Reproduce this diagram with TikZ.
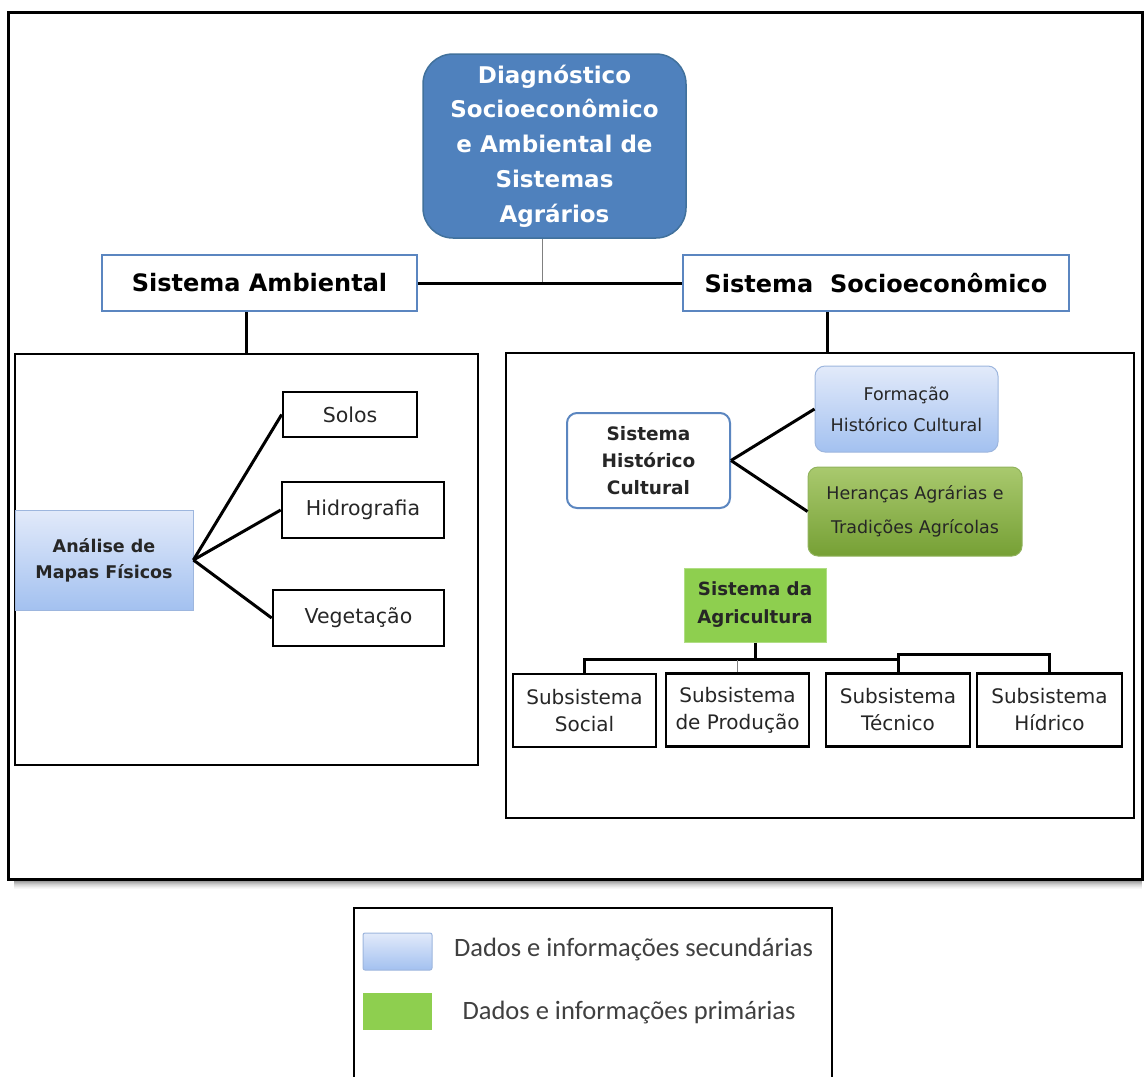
\documentclass[tikz,border=0pt]{standalone}
\usepackage{fontspec}
\setmainfont{DejaVu Sans}
\newfontfamily\legfont{Carlito}
\newcommand{\myfs}[2]{\fontsize{#1}{#2}\selectfont}
\definecolor{tblue}{HTML}{4F81BD}
\definecolor{tbord}{HTML}{41719C}
\definecolor{sysblue}{HTML}{5B86C0}
\definecolor{lbtop}{HTML}{E2EAFA}
\definecolor{lbbot}{HTML}{A3C1F0}
\definecolor{lbord}{HTML}{9DB6DE}
\definecolor{gtop}{HTML}{A9C96E}
\definecolor{gbot}{HTML}{76A035}
\definecolor{agrgreen}{HTML}{8ECF4F}
\definecolor{txtgray}{HTML}{262626}
\definecolor{leggray}{HTML}{404040}
\tikzset{
  box/.style={inner sep=0pt, align=center, anchor=center},
  blackbox/.style={box, draw=black, line width=2.6pt, fill=white, text=txtgray},
  sysbox/.style={box, draw=sysblue, line width=2pt, fill=white, text=black, font=\myfs{24}{30}\bfseries},
  panel/.style={box, draw=black, line width=2.8pt},
  bluegrad/.style={top color=lbtop, bottom color=lbbot},
  greengrad/.style={top color=gtop, bottom color=gbot},
  conn/.style={line width=3pt, black},
  leaf/.style={blackbox, font=\myfs{20.5}{26}},
  subbox/.style={blackbox, minimum width=143pt, minimum height=73pt, font=\myfs{20}{27}},
}
\begin{document}
\begin{tikzpicture}[x=1pt,y=-1pt]
\useasboundingbox (0,0) rectangle (1144,1077);
\fill[white] (0,0) rectangle (1144,1077);

% outer frame with shadow
\foreach \i/\o in {1/0.45,2/0.38,3/0.31,4/0.25,5/0.19,6/0.14,7/0.10,8/0.06,9/0.03}
  \draw[black, opacity=\o, line width=1pt] (14,879+\i) -- (1142,879+\i);
\draw[line width=3pt] (8,12) rectangle (1142,879);

% title
\node[box, minimum width=263pt, minimum height=184pt, rounded corners=30pt,
      fill=tblue, draw=tbord, line width=1.5pt, text=white,
      font=\myfs{23}{34.8}\bfseries] (title) at (554.5,146)
  {Diagnóstico\\Socioeconômico\\e Ambiental de\\Sistemas\\Agrários};

% system boxes
\node[sysbox, minimum width=315pt, minimum height=56pt] (amb) at (259.5,283) {Sistema Ambiental};
\node[sysbox, minimum width=386pt, minimum height=56pt] (soc) at (876,283) {Sistema~~Socioeconômico};

% panels
\node[panel, minimum width=463pt, minimum height=411pt] (lpanel) at (246.5,559.5) {};
\node[panel, minimum width=628pt, minimum height=465pt] (rpanel) at (820,585.5) {};

% left panel content
\node[box, bluegrad, draw=lbord, line width=0.8pt, minimum width=178pt, minimum height=100pt,
      font=\myfs{17.5}{26}\bfseries, text=txtgray] (ana) at (104,560) {Análise de\\Mapas Físicos};
\node[leaf, minimum width=134pt, minimum height=45pt] (solos) at (350,414.5) {Solos};
\node[leaf, minimum width=162pt, minimum height=56pt] (hidro) at (363,510) {Hidrografia};
\node[leaf, minimum width=171pt, minimum height=56pt] (veg) at (358.5,618) {Vegetação};

% right panel content
\node[box, rounded corners=10pt, draw=sysblue, line width=2pt, fill=white,
      minimum width=163pt, minimum height=95pt, font=\myfs{18.5}{27}\bfseries, text=txtgray]
      (hist) at (648.5,460.5) {Sistema\\Histórico\\Cultural};
\node[box, rounded corners=10pt, bluegrad, draw=lbord, line width=1pt,
      minimum width=183pt, minimum height=86pt, font=\myfs{17.5}{31}, text=txtgray]
      (form) at (906.5,409) {Formação\\Histórico Cultural};
\node[box, rounded corners=10pt, greengrad, draw=gbot!80!white, line width=1pt,
      minimum width=214pt, minimum height=89pt, font=\myfs{17.5}{34}, text=txtgray]
      (her) at (915,511.5) {Heranças Agrárias e\\Tradições Agrícolas};
\node[box, fill=agrgreen, draw=agrgreen!70!white, line width=1pt,
      minimum width=142pt, minimum height=74pt, font=\myfs{18.2}{28}\bfseries, text=black!85]
      (agr) at (755,605) {Sistema da\\Agricultura};

\node[subbox] (sub1) at (584.5,710.5) {Subsistema\\Social};
\node[subbox] (sub2) at (737.5,710) {Subsistema\\de Produção};
\node[subbox, minimum width=144pt] (sub3) at (898,710) {Subsistema\\Técnico};
\node[subbox, minimum width=145pt] (sub4) at (1049.5,710) {Subsistema\\Hídrico};

% connectors
\draw[gray, line width=1pt] ([xshift=-12pt]title.south) -- ([xshift=-12pt]title.south |- amb.east);
\draw[conn] (amb.east) -- (soc.west);
\draw[conn] (lpanel.north) -- (lpanel.north |- amb.south);
\draw[conn] ([xshift=7pt]rpanel.north) -- ([xshift=7pt]rpanel.north |- soc.south);

\draw[conn] (ana.east) -- (solos.west);
\draw[conn] (ana.east) -- (hidro.west);
\draw[conn] (ana.east) -- (veg.west);

\draw[conn] (hist.east) -- (form.west);
\draw[conn] (hist.east) -- (her.west);

\draw[conn] (agr.south) -- ++(0,17) coordinate (bus);
\draw[conn] (sub1.north) |- (sub3.north |- bus) -- (sub3.north);
\draw[conn] (sub3.north |- bus) -- ++(0,-5) -| (sub4.north);
\draw[gray, line width=1.2pt] (sub2.north) -- (sub2.north |- bus);

% legend
\draw[line width=2.5pt] (354,1080) -- (354,908) -- (832,908) -- (832,1080);
\node[box, bluegrad, draw=lbord, line width=1pt, rounded corners=2pt,
      minimum width=69pt, minimum height=37pt] (sw1) at (397.5,951.5) {};
\node[box, fill=agrgreen, minimum width=69pt, minimum height=37pt] (sw2) at (397.5,1011.5) {};
\node[box, font=\legfont\myfs{26.5}{30}, text=leggray] (lt1) at (633.5,950) {Dados e informações secundárias};
\node[box, font=\legfont\myfs{26.5}{30}, text=leggray] (lt2) at (629,1013) {Dados e informações primárias};
\end{tikzpicture}
\end{document}
